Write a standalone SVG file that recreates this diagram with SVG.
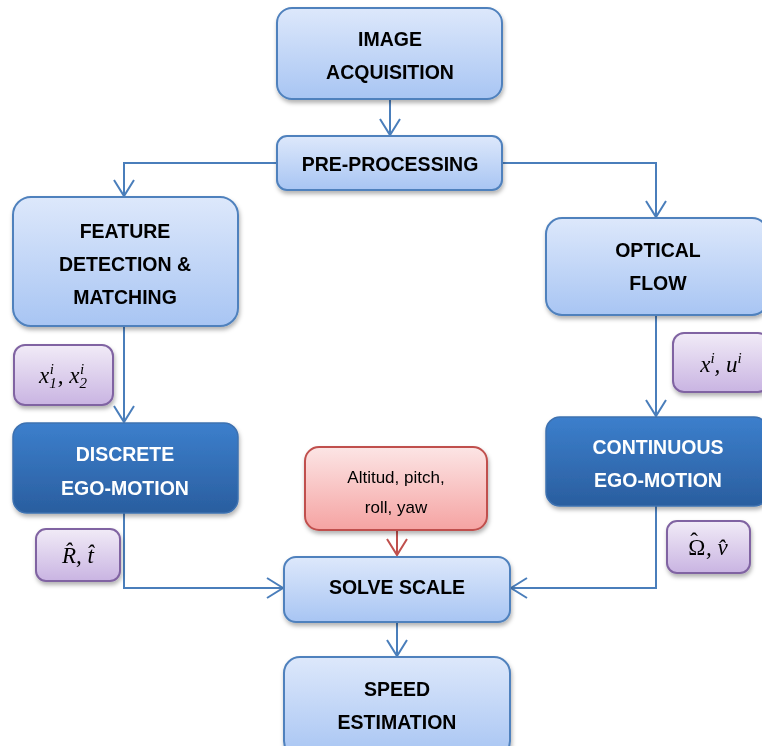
<svg xmlns="http://www.w3.org/2000/svg" width="762" height="746" viewBox="0 0 762 746">
<style>
.lb{fill:url(#gLight);stroke:#4f81bd;stroke-width:2}
.db{fill:url(#gDark);stroke:#3d71b0;stroke-width:1.5}
.pb{fill:url(#gPurple);stroke:#8064a2;stroke-width:2}
.rb{fill:url(#gRed);stroke:#c0504d;stroke-width:2}
.t{font-family:"Liberation Sans",Arial,sans-serif;font-weight:bold;font-size:19.5px;text-anchor:middle;fill:#000}
.tw{font-family:"Liberation Sans",Arial,sans-serif;font-weight:bold;font-size:19.5px;text-anchor:middle;fill:#fff}
.tr{font-family:"Liberation Sans",Arial,sans-serif;font-size:17px;text-anchor:middle;fill:#000}
.m{font-family:"Liberation Serif","DejaVu Serif",serif;font-style:italic;font-size:23px;text-anchor:middle;fill:#000}
.c{fill:none;stroke:#4a7ebb;stroke-width:2}
.cr{fill:none;stroke:#c0504d;stroke-width:2}
</style>
<defs>
<linearGradient id="gLight" x1="0" y1="0" x2="0" y2="1"><stop offset="0" stop-color="#dde8fb"/><stop offset="1" stop-color="#a8c5f3"/></linearGradient>
<linearGradient id="gDark" x1="0" y1="0" x2="0" y2="1"><stop offset="0" stop-color="#3c7fcc"/><stop offset="1" stop-color="#2a5e9f"/></linearGradient>
<linearGradient id="gPurple" x1="0" y1="0" x2="0" y2="1"><stop offset="0" stop-color="#f1ebf7"/><stop offset="1" stop-color="#c9b4e2"/></linearGradient>
<linearGradient id="gRed" x1="0" y1="0" x2="0" y2="1"><stop offset="0" stop-color="#fce5e5"/><stop offset="1" stop-color="#f5a3a2"/></linearGradient>
<filter id="sh" x="-10%" y="-10%" width="125%" height="130%"><feDropShadow dx="1" dy="3" stdDeviation="2" flood-color="#000" flood-opacity="0.3"/></filter>
<marker id="ab" markerUnits="userSpaceOnUse" markerWidth="20" markerHeight="24" viewBox="-18 -12 20 24" refX="0" refY="0" orient="auto" overflow="visible"><path d="M-16,-10 L0,0 L-16,10" fill="none" stroke="#4a7ebb" stroke-width="2"/></marker>
<marker id="ar" markerUnits="userSpaceOnUse" markerWidth="20" markerHeight="24" viewBox="-18 -12 20 24" refX="0" refY="0" orient="auto" overflow="visible"><path d="M-16,-10 L0,0 L-16,10" fill="none" stroke="#c0504d" stroke-width="2"/></marker>
</defs>

<g id="connectors">
<path class="c" d="M390,99 V135" marker-end="url(#ab)"/>
<path class="c" d="M277,163 H124 V196" marker-end="url(#ab)"/>
<path class="c" d="M502,163 H656 V217" marker-end="url(#ab)"/>
<path class="c" d="M124,326 V422" marker-end="url(#ab)"/>
<path class="c" d="M656,315 V416" marker-end="url(#ab)"/>
<path class="c" d="M124,513 V588 H283" marker-end="url(#ab)"/>
<path class="c" d="M656,506 V588 H511" marker-end="url(#ab)"/>
<path class="cr" d="M397,530 V555" marker-end="url(#ar)"/>
<path class="c" d="M397,622 V656" marker-end="url(#ab)"/>
</g>

<g id="image-acquisition" filter="url(#sh)">
<rect class="lb" x="277" y="8" width="225" height="91" rx="15"/>
<text class="t" x="390" y="46">IMAGE</text>
<text class="t" x="390" y="79">ACQUISITION</text>
</g>
<g id="pre-processing" filter="url(#sh)">
<rect class="lb" x="277" y="136" width="225" height="54" rx="10"/>
<text class="t" x="390" y="171">PRE-PROCESSING</text>
</g>
<g id="feature-detection" filter="url(#sh)">
<rect class="lb" x="13" y="197" width="225" height="129" rx="18"/>
<text class="t" x="125" y="238">FEATURE</text>
<text class="t" x="125" y="271">DETECTION &amp;</text>
<text class="t" x="125" y="304">MATCHING</text>
</g>
<g id="optical-flow" filter="url(#sh)">
<rect class="lb" x="546" y="218" width="222" height="97" rx="16"/>
<text class="t" x="658" y="257">OPTICAL</text>
<text class="t" x="658" y="290">FLOW</text>
</g>
<g id="label-x1x2" filter="url(#sh)">
<rect class="pb" x="14" y="345" width="99" height="60" rx="11"/>
<text class="m" x="63" y="383">x<tspan font-size="15" dy="5">1</tspan><tspan font-size="15" dx="-7" dy="-14">i</tspan><tspan dx="4" dy="9">, x</tspan><tspan font-size="15" dy="5">2</tspan><tspan font-size="15" dx="-7" dy="-14">i</tspan></text>
</g>
<g id="label-xu" filter="url(#sh)">
<rect class="pb" x="673" y="333" width="96" height="59" rx="11"/>
<text class="m" x="721" y="372">x<tspan font-size="15" dy="-9">i</tspan><tspan dy="9">, u</tspan><tspan font-size="15" dy="-9">i</tspan></text>
</g>
<g id="discrete-ego-motion" filter="url(#sh)">
<rect class="db" x="13" y="423" width="225" height="90" rx="14"/>
<text class="tw" x="125" y="461">DISCRETE</text>
<text class="tw" x="125" y="495">EGO-MOTION</text>
</g>
<g id="continuous-ego-motion" filter="url(#sh)">
<rect class="db" x="546" y="417" width="222" height="89" rx="14"/>
<text class="tw" x="658" y="454">CONTINUOUS</text>
<text class="tw" x="658" y="487">EGO-MOTION</text>
</g>
<g id="label-rt" filter="url(#sh)">
<rect class="pb" x="36" y="529" width="84" height="52" rx="10"/>
<text class="m" x="78" y="563">R̂, t̂</text>
</g>
<g id="label-omega-v" filter="url(#sh)">
<rect class="pb" x="667" y="521" width="83" height="52" rx="10"/>
<text class="m" x="708" y="555"><tspan font-style="normal">Ω</tspan><tspan font-style="normal" dx="-15" dy="-6">ˆ</tspan><tspan dx="8" dy="6">, v̂</tspan></text>
</g>
<g id="attitude" filter="url(#sh)">
<rect class="rb" x="305" y="447" width="182" height="83" rx="14"/>
<text class="tr" x="396" y="483">Altitud, pitch,</text>
<text class="tr" x="396" y="513">roll, yaw</text>
</g>
<g id="solve-scale" filter="url(#sh)">
<rect class="lb" x="284" y="557" width="226" height="65" rx="12"/>
<text class="t" x="397" y="594">SOLVE SCALE</text>
</g>
<g id="speed-estimation" filter="url(#sh)">
<rect class="lb" x="284" y="657" width="226" height="100" rx="16"/>
<text class="t" x="397" y="696">SPEED</text>
<text class="t" x="397" y="729">ESTIMATION</text>
</g>
</svg>
